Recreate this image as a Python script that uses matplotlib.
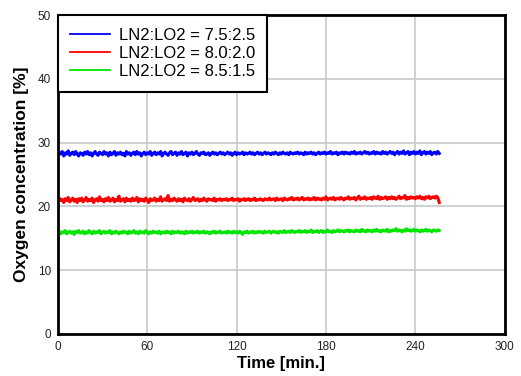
import matplotlib.pyplot as plt
import numpy as np

# oxygen concentration [%], one reading per minute (0..256 min)
o2_75_25 = [
    28.1, 28.5, 28.2, 28.6, 27.9, 28.4, 28.2, 28.7, 28.0, 28.3, 28.5, 28.1, 28.6, 28.2, 27.9, 28.4,
    28.3, 28.0, 28.5, 28.2, 28.6, 28.1, 28.4, 27.9, 28.3, 28.6, 28.2, 28.0, 28.5, 28.3, 28.1, 28.6,
    28.2, 28.4, 27.9, 28.5, 28.1, 28.3, 28.6, 28.0, 28.4, 28.2, 28.5, 28.1, 28.3, 27.9, 28.6, 28.2,
    28.4, 28.0, 28.3, 28.5, 28.1, 28.6, 28.2, 28.4, 27.9, 28.3, 28.5, 28.1, 28.4, 28.2, 28.6, 28.0,
    28.3, 28.5, 28.1, 28.4, 28.2, 28.6, 27.9, 28.3, 28.5, 28.2, 28.0, 28.4, 28.6, 28.1, 28.3, 28.5,
    28.0, 28.4, 28.2, 28.6, 28.1, 28.3, 28.5, 27.9, 28.4, 28.2, 28.5, 28.1, 28.3, 28.6, 28.2, 28.0,
    28.4, 28.3, 28.5, 28.1, 28.2, 28.4, 28.0, 28.3, 28.5, 28.2, 28.4, 28.1, 28.3, 28.5, 28.2, 28.4,
    28.1, 28.3, 28.5, 28.2, 28.4, 28.0, 28.3, 28.5, 28.1, 28.4, 28.2, 28.3, 28.5, 28.1, 28.4, 28.2,
    28.3, 28.5, 28.2, 28.4, 28.1, 28.3, 28.5, 28.2, 28.4, 28.1, 28.3, 28.5, 28.2, 28.4, 28.3, 28.1,
    28.4, 28.2, 28.5, 28.3, 28.1, 28.4, 28.2, 28.5, 28.3, 28.2, 28.4, 28.1, 28.5, 28.3, 28.2, 28.4,
    28.3, 28.5, 28.2, 28.4, 28.3, 28.1, 28.5, 28.2, 28.4, 28.3, 28.5, 28.2, 28.4, 28.1, 28.3, 28.5,
    28.2, 28.4, 28.3, 28.5, 28.2, 28.4, 28.3, 28.6, 28.2, 28.4, 28.3, 28.5, 28.1, 28.4, 28.3, 28.5,
    28.2, 28.5, 28.3, 28.4, 28.2, 28.5, 28.3, 28.6, 28.2, 28.4, 28.3, 28.5, 28.2, 28.4, 28.6, 28.3,
    28.5, 28.2, 28.4, 28.3, 28.6, 28.2, 28.5, 28.3, 28.4, 28.2, 28.6, 28.3, 28.5, 28.2, 28.4, 28.6,
    28.3, 28.5, 28.1, 28.4, 28.6, 28.2, 28.5, 28.3, 28.7, 28.2, 28.4, 28.6, 28.1, 28.5, 28.3, 28.6,
    28.2, 28.5, 28.3, 28.7, 28.1, 28.4, 28.6, 28.2, 28.5, 28.3, 28.6, 28.1, 28.4, 28.5, 28.2, 28.6, 28.3,
]
o2_80_20 = [
    20.8, 21.3, 20.9, 21.1, 20.6, 21.2, 20.9, 21.4, 20.7, 21.0, 21.3, 20.8, 21.1, 20.6, 21.2, 20.9,
    21.3, 20.7, 21.0, 21.4, 20.8, 21.1, 20.9, 21.3, 20.6, 21.0, 21.2, 20.8, 21.5, 20.9, 21.1, 20.7,
    21.2, 20.9, 21.4, 20.8, 21.0, 21.3, 20.7, 21.1, 20.9, 21.6, 20.8, 21.0, 21.2, 20.7, 21.3, 20.9,
    21.1, 20.8, 21.3, 20.9, 21.0, 21.4, 20.7, 21.2, 20.9, 21.1, 20.8, 21.3, 21.0, 20.6, 21.2, 20.9,
    21.0, 21.3, 20.8, 21.1, 20.9, 21.5, 20.8, 21.0, 21.2, 20.9, 21.7, 20.8, 21.1, 20.9, 21.3, 21.0,
    20.8, 21.2, 20.9, 21.1, 20.7, 21.3, 21.0, 20.9, 21.2, 20.8, 21.1, 21.4, 20.9, 21.0, 21.2, 20.8,
    21.1, 20.9, 21.3, 21.0, 20.8, 21.2, 21.0, 21.1, 20.9, 21.3, 20.8, 21.1, 21.0, 21.2, 20.9, 21.1,
    21.0, 21.2, 20.9, 21.1, 21.0, 21.3, 20.9, 21.1, 21.0, 21.2, 20.8, 21.1, 21.0, 21.2, 20.9, 21.1,
    21.2, 20.9, 21.1, 21.0, 21.3, 20.9, 21.1, 21.0, 21.2, 21.0, 20.9, 21.2, 21.1, 21.0, 21.3, 21.0,
    21.1, 21.2, 20.9, 21.3, 21.0, 21.1, 21.2, 20.9, 21.3, 21.1, 21.0, 21.2, 21.1, 21.4, 21.0, 21.2,
    21.1, 21.3, 21.0, 21.2, 21.4, 21.0, 21.2, 21.1, 21.3, 21.0, 21.2, 21.1, 21.4, 21.0, 21.3, 21.1,
    21.2, 21.0, 21.3, 21.1, 21.5, 21.0, 21.2, 21.3, 21.1, 21.4, 21.0, 21.2, 21.3, 21.1, 21.4, 21.2,
    21.0, 21.3, 21.2, 21.5, 21.1, 21.3, 21.2, 21.4, 21.0, 21.3, 21.6, 21.1, 21.3, 21.2, 21.5, 21.1,
    21.3, 21.2, 21.4, 21.1, 21.5, 21.3, 21.2, 21.6, 21.1, 21.4, 21.2, 21.3, 21.5, 21.1, 21.4, 21.2,
    21.5, 21.2, 21.4, 21.1, 21.3, 21.6, 21.2, 21.4, 21.3, 21.7, 21.1, 21.4, 21.2, 21.5, 21.3, 21.4,
    21.2, 21.5, 21.3, 21.6, 21.2, 21.4, 21.1, 21.5, 21.3, 21.6, 21.2, 21.4, 21.5, 21.3, 21.6, 21.4, 20.6,
]
o2_85_15 = [
    15.8, 16.1, 15.7, 16.0, 15.9, 16.2, 15.7, 15.9, 16.1, 15.8, 16.0, 15.6, 16.1, 15.9, 16.2, 15.8,
    15.9, 16.1, 15.7, 16.0, 15.8, 16.2, 15.9, 15.7, 16.1, 15.8, 16.0, 15.9, 16.2, 15.7, 15.9, 16.1,
    15.8, 16.0, 15.9, 16.2, 15.7, 16.0, 15.8, 16.1, 15.9, 15.7, 16.0, 15.8, 16.1, 15.9, 16.0, 15.7,
    16.1, 15.8, 15.9, 16.2, 15.8, 16.0, 15.7, 16.1, 15.9, 16.0, 15.8, 16.2, 15.9, 15.7, 16.0, 15.8,
    16.1, 15.9, 16.0, 15.8, 16.1, 15.7, 15.9, 16.0, 15.8, 16.1, 15.9, 16.0, 15.7, 16.1, 15.8, 16.0,
    15.9, 16.1, 15.8, 16.0, 15.9, 15.7, 16.1, 15.8, 16.0, 15.9, 16.1, 15.8, 16.0, 15.9, 16.1, 15.8,
    16.0, 15.9, 16.1, 15.8, 16.0, 15.9, 15.7, 16.0, 15.9, 16.1, 15.8, 16.0, 15.9, 16.1, 15.8, 15.9,
    16.0, 15.8, 16.1, 15.9, 16.0, 15.8, 16.1, 15.9, 16.0, 15.8, 16.1, 15.9, 15.6, 16.0, 15.9, 16.1,
    15.8, 16.0, 15.9, 16.1, 15.8, 16.0, 15.9, 16.1, 15.9, 16.0, 15.8, 16.1, 15.9, 16.0, 16.1, 15.8,
    16.0, 16.1, 15.9, 16.0, 15.8, 16.1, 16.0, 15.9, 16.2, 15.9, 16.0, 16.1, 15.9, 16.2, 16.0, 15.9,
    16.1, 16.0, 16.2, 15.9, 16.1, 16.0, 16.2, 15.9, 16.1, 16.0, 16.3, 15.9, 16.1, 16.0, 16.2, 15.9,
    16.1, 16.2, 15.9, 16.1, 16.0, 16.3, 16.0, 16.1, 15.9, 16.2, 16.0, 16.1, 16.3, 16.0, 16.2, 16.1,
    16.0, 16.2, 16.1, 16.3, 16.0, 16.2, 16.1, 16.0, 16.3, 16.1, 16.2, 16.0, 16.4, 16.1, 16.2, 16.0,
    16.3, 16.1, 16.2, 16.0, 16.3, 16.1, 16.4, 16.1, 16.2, 16.0, 16.3, 16.2, 16.1, 16.4, 16.0, 16.2,
    16.1, 16.3, 16.2, 16.5, 16.1, 16.3, 16.2, 16.0, 16.3, 16.1, 16.5, 16.2, 16.3, 16.1, 16.2, 16.4,
    16.1, 16.3, 16.2, 16.0, 16.3, 16.1, 16.2, 16.4, 16.1, 16.3, 16.2, 16.0, 16.3, 16.2, 16.1, 16.3, 16.2,
]
labels = ['LN2:LO2 = 7.5:2.5', 'LN2:LO2 = 8.0:2.0', 'LN2:LO2 = 8.5:1.5']
colors = ['#0000ff', '#ff0000', '#00e600']
x_ticks = [0, 60, 120, 180, 240, 300]
y_ticks = [0, 10, 20, 30, 40, 50]

plt.rcParams['font.family'] = ['Liberation Sans', 'DejaVu Sans']

fig = plt.figure(figsize=(5.21, 3.76), dpi=100)
ax = fig.add_axes([0.111, 0.112, 0.858, 0.848])

for vals, lab, col in zip([o2_75_25, o2_80_20, o2_85_15], labels, colors):
    t = np.arange(len(vals))  # minutes
    line, = ax.plot(t, vals, color=col, linewidth=2.2, label=lab)

ax.set_xlim(0, 300)
ax.set_ylim(0, 50)
ax.set_xticks(x_ticks)
ax.set_yticks(y_ticks)
ax.tick_params(length=0, labelsize=8.5, labelcolor='#222222', pad=5)
ax.grid(True, color='#c8c8c8', linewidth=1.2)
ax.set_axisbelow(True)
for s in ax.spines.values():
    s.set_linewidth(2)
    s.set_color('black')

ax.set_xlabel('Time [min.]', fontsize=12, fontweight='bold', labelpad=2)
ax.set_ylabel('Oxygen concentration [%]', fontsize=12.5, fontweight='bold', labelpad=6)

leg = ax.legend(loc='upper left', fontsize=12, fancybox=False, framealpha=1,
                edgecolor='black', borderaxespad=0, handlelength=2.4,
                handletextpad=0.5, labelspacing=0.2, borderpad=0.75)
leg.get_frame().set_linewidth(1.5)
for h in leg.get_lines():
    h.set_linewidth(1.3)

plt.savefig('out.png', dpi=100)
